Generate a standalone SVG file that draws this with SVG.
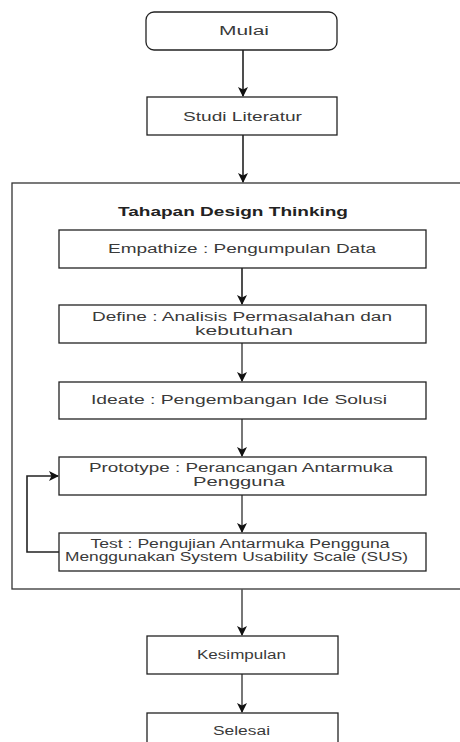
<svg xmlns="http://www.w3.org/2000/svg" width="460" height="742" viewBox="0 0 460 742">
<defs>
<style>
.box{fill:#fff;stroke:#222;stroke-width:1.3}
.cont{fill:#fff;stroke:#333;stroke-width:1.3}
.t{font-family:"Liberation Sans",Arial,sans-serif;font-size:12px;fill:#3a3a3a;text-anchor:middle}
.b{font-weight:bold;fill:#222}
.c{fill:none;stroke:#222;stroke-width:1.6}
.g{stroke:#555}
</style>
<marker id="ah" viewBox="0 0 10 10" refX="9" refY="5" markerWidth="10" markerHeight="10" markerUnits="userSpaceOnUse" orient="auto">
<path d="M0,0 L10,5 L0,10 L2.5,5 z" fill="#111"/>
</marker>
</defs>
<rect width="460" height="742" fill="#fff"/>
<g id="container">
<rect class="cont" x="12" y="183" width="460" height="406"/>
<text class="t b" x="233" y="216" textLength="230" lengthAdjust="spacingAndGlyphs">Tahapan Design Thinking</text>
</g>
<g id="connectors">
<path class="c" d="M243,50 V96" marker-end="url(#ah)"/>
<path class="c" d="M243,135 V182" marker-end="url(#ah)"/>
<path class="c" d="M242,268 V304" marker-end="url(#ah)"/>
<path class="c g" d="M242,343 V381" marker-end="url(#ah)"/>
<path class="c g" d="M242,419 V456" marker-end="url(#ah)"/>
<path class="c g" d="M242,495 V532" marker-end="url(#ah)"/>
<path class="c" d="M59,552 H27 V476 H58" marker-end="url(#ah)"/>
<path class="c g" d="M242,589 V635" marker-end="url(#ah)"/>
<path class="c g" d="M242,674 V712" marker-end="url(#ah)"/>
</g>
<g id="mulai">
<rect class="box" x="146" y="12" width="191" height="38" rx="8"/>
<text class="t" x="244" y="35" textLength="50" lengthAdjust="spacingAndGlyphs">Mulai</text>
</g>
<g id="studi">
<rect class="box" x="147" y="97" width="190" height="38"/>
<text class="t" x="242.5" y="121" textLength="119" lengthAdjust="spacingAndGlyphs">Studi Literatur</text>
</g>
<g id="empathize">
<rect class="box" x="59" y="230" width="367" height="38"/>
<text class="t" x="242" y="253" textLength="268" lengthAdjust="spacingAndGlyphs">Empathize : Pengumpulan Data</text>
</g>
<g id="define">
<rect class="box" x="59" y="305" width="367" height="38"/>
<text class="t" x="242" y="321" textLength="300" lengthAdjust="spacingAndGlyphs">Define : Analisis Permasalahan dan</text>
<text class="t" x="244" y="335" textLength="98" lengthAdjust="spacingAndGlyphs">kebutuhan</text>
</g>
<g id="ideate">
<rect class="box" x="59" y="382" width="367" height="37"/>
<text class="t" x="239" y="404" textLength="296" lengthAdjust="spacingAndGlyphs">Ideate : Pengembangan Ide Solusi</text>
</g>
<g id="prototype">
<rect class="box" x="59" y="457" width="367" height="38"/>
<text class="t" x="241" y="472" textLength="304" lengthAdjust="spacingAndGlyphs">Prototype : Perancangan Antarmuka</text>
<text class="t" x="239" y="486" textLength="92" lengthAdjust="spacingAndGlyphs">Pengguna</text>
</g>
<g id="test">
<rect class="box" x="59" y="533" width="367" height="38"/>
<text class="t" x="240" y="548" textLength="299" lengthAdjust="spacingAndGlyphs">Test : Pengujian Antarmuka Pengguna</text>
<text class="t" x="236.5" y="561" textLength="343" lengthAdjust="spacingAndGlyphs">Menggunakan System Usability Scale (SUS)</text>
</g>
<g id="kesimpulan">
<rect class="box" x="147" y="636" width="191" height="38"/>
<text class="t" x="241.5" y="659" textLength="89" lengthAdjust="spacingAndGlyphs">Kesimpulan</text>
</g>
<g id="selesai">
<rect class="box" x="147" y="713" width="191" height="38"/>
<text class="t" x="241.5" y="735" textLength="57" lengthAdjust="spacingAndGlyphs">Selesai</text>
</g>
</svg>
